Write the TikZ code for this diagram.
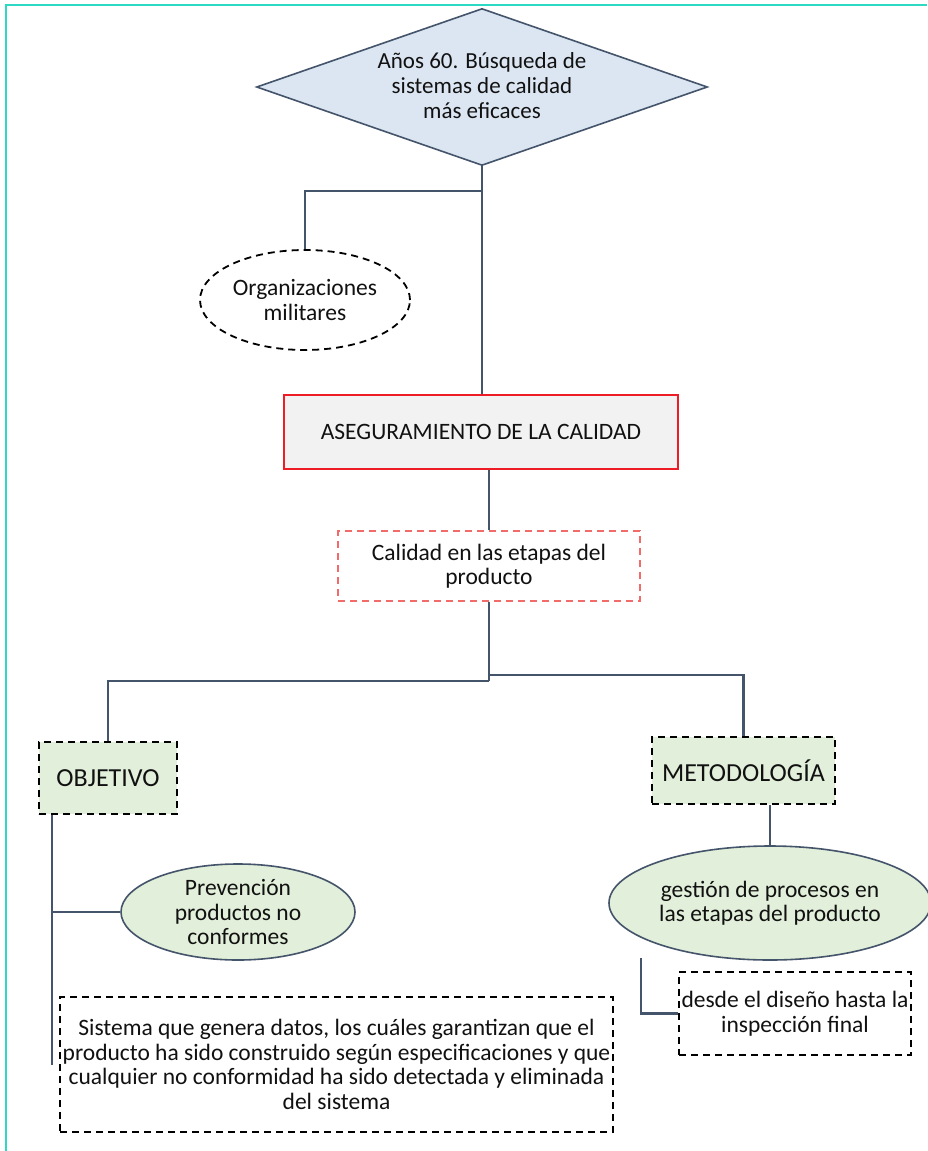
\documentclass[tikz,border=0pt]{standalone}
\usepackage{fontspec}
\setmainfont{Carlito}
\usetikzlibrary{shapes.geometric}

\definecolor{frame}{HTML}{2ED9C3}
\definecolor{slate}{HTML}{44546A}
\definecolor{diafill}{HTML}{DCE6F2}
\definecolor{greenfill}{HTML}{E2EFDA}
\definecolor{boxgray}{HTML}{F2F2F2}
\definecolor{redline}{HTML}{EE1C25}
\definecolor{redash}{HTML}{F26B6B}
\definecolor{ink}{HTML}{111111}

\begin{document}
\begin{tikzpicture}[x=1pt,y=-1pt,
  every node/.style={text=ink, font=\fontsize{23.5}{24.5}\selectfont, align=center, inner sep=0pt},
  conn/.style={draw=slate, line width=2.2pt},
  dashbox/.style={draw=black, line width=1.8pt, dash pattern=on 7pt off 5pt, rectangle},
  greenbox/.style={dashbox, fill=greenfill, font=\fontsize{26}{28}\selectfont},
  greenell/.style={ellipse, draw=slate, line width=1.6pt, fill=greenfill}
]
\useasboundingbox (0,0) rectangle (927,1151);
\fill[white] (0,0) rectangle (927,1151);

% outer frame (top and left edges)
\draw[frame, line width=2pt] (6,1151) -- (6,5) -- (927,5);

% title diamond
\node[diamond, draw=slate, line width=1.6pt, fill=diafill,
      shape aspect=2.87, minimum width=451pt, minimum height=157pt]
      (dia) at (482,87) {};
\node[font=\fontsize{23}{25}\selectfont] (diatext) at (482,86)
      {Años 60. Búsqueda de\\sistemas de calidad\\más eficaces};

% dashed ellipse
\node[ellipse, draw=black, line width=1.8pt, dash pattern=on 7pt off 5pt,
      minimum width=210pt, minimum height=100pt] (org) at (305,300)
      {Organizaciones\\militares};

% main box
\node[rectangle, draw=redline, line width=2.4pt, fill=boxgray,
      minimum width=394pt, minimum height=74pt] (asc) at (481,432)
      {ASEGURAMIENTO DE LA CALIDAD};

% red dashed box
\node[rectangle, draw=redash, line width=1.6pt, dash pattern=on 7pt off 5pt,
      minimum width=302pt, minimum height=70pt] (cal) at (489,566)
      {Calidad en las etapas del\\producto};

% branch headings
\node[greenbox, minimum width=138pt, minimum height=72pt] (obj) at (108,778) {OBJETIVO};
\node[greenbox, minimum width=183pt, minimum height=67pt] (met) at (743.5,770.5) {METODOLOGÍA};

% green ellipses
\node[greenell, minimum width=234pt, minimum height=96pt] (prev) at (238,912)
      {Prevención\\productos no\\conformes};
\node[greenell, minimum width=322pt, minimum height=114pt] (gest) at (770,903)
      {gestión de procesos en\\las etapas del producto};

% detail boxes
\node[dashbox, minimum width=553pt, minimum height=135pt,
      font=\fontsize{23.5}{24.8}\selectfont] (sis) at (336.5,1064.5)
      {Sistema que genera datos, los cuáles garantizan que el\\
       producto ha sido construido según especificaciones y que\\
       cualquier no conformidad ha sido detectada y eliminada\\
       del sistema};
\node[dashbox, minimum width=232pt, minimum height=83pt] (desde) at (795,1013.5)
      {desde el diseño hasta la\\inspección final};

% connectors
\draw[conn] (dia.south) -- ++(0,25) coordinate (j1) -| (org.north);
\draw[conn] (j1) -- (j1 |- asc.north);
\draw[conn] (asc.south -| cal.north) -- (cal.north);
\draw[conn] (cal.south) -- ++(0,79) coordinate (j2);
\draw[conn] (j2) -| (obj.north);
\draw[conn] (j2) ++(0,-6) coordinate (j3) -| (met.north);

\coordinate (objbar) at (52,1065);
\draw[conn] (obj.south -| objbar) -- (objbar);
\draw[conn] (prev.west -| objbar) -- (prev.west);

\draw[conn] (met.south -| gest.north) -- (gest.north);

\coordinate (gbar) at (641,958);
\draw[conn] (gbar) |- (desde.west);
\end{tikzpicture}
\end{document}
